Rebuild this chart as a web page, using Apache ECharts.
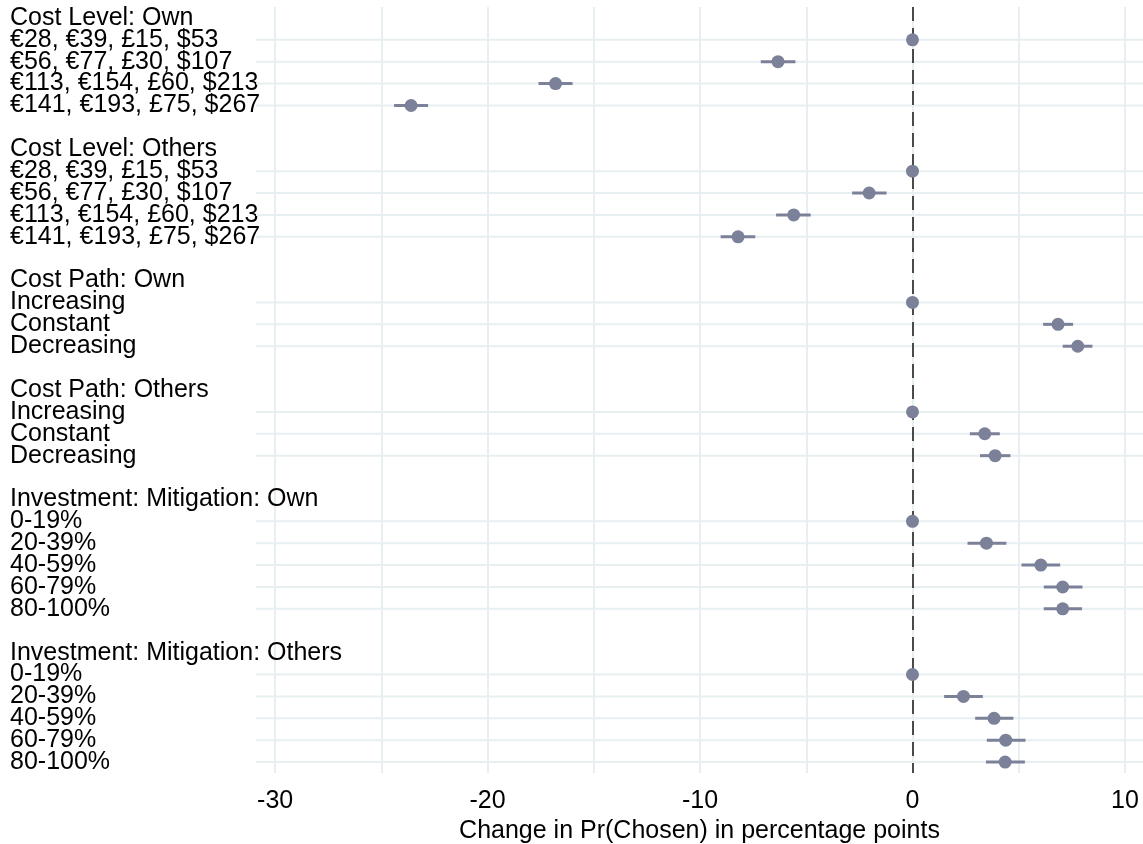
<!DOCTYPE html>
<html>
<head>
<meta charset="utf-8">
<script src="https://cdn.jsdelivr.net/npm/echarts@6/dist/echarts.min.js"></script>
<style>
  html, body { margin: 0; padding: 0; background: #fff; }
  #coefChart { width: 1143px; height: 844px; }
</style>
</head>
<body>
<div id="coefChart"></div>
<script>
  // one entry per row, top to bottom (headers and blank spacer rows have no estimate)
  var rowLabels = [
    'Cost Level: Own', '€28, €39, £15, $53', '€56, €77, £30, $107', '€113, €154, £60, $213', '€141, €193, £75, $267', '',
    'Cost Level: Others', '€28, €39, £15, $53', '€56, €77, £30, $107', '€113, €154, £60, $213', '€141, €193, £75, $267', '',
    'Cost Path: Own', 'Increasing', 'Constant', 'Decreasing', '',
    'Cost Path: Others', 'Increasing', 'Constant', 'Decreasing', '',
    'Investment: Mitigation: Own', '0-19%', '20-39%', '40-59%', '60-79%', '80-100%', '',
    'Investment: Mitigation: Others', '0-19%', '20-39%', '40-59%', '60-79%', '80-100%'
  ]
  var estimate = [
    null, 0, -6.33, -16.8, -23.6, null,
    null, 0, -2.04, -5.59, -8.21, null,
    null, 0, 6.85, 7.78, null,
    null, 0, 3.40, 3.89, null,
    null, 0, 3.48, 6.04, 7.07, 7.07, null,
    null, 0, 2.40, 3.84, 4.39, 4.36
  ]
  var lower = [
    null, null, -7.14, -17.6, -24.4, null,
    null, null, -2.84, -6.42, -9.03, null,
    null, null, 6.15, 7.07, null,
    null, null, 2.70, 3.18, null,
    null, null, 2.59, 5.13, 6.18, 6.18, null,
    null, null, 1.49, 2.95, 3.50, 3.46
  ]
  var upper = [
    null, null, -5.51, -16.0, -22.8, null,
    null, null, -1.22, -4.79, -7.40, null,
    null, null, 7.56, 8.47, null,
    null, null, 4.11, 4.61, null,
    null, null, 4.42, 6.95, 8.00, 7.98, null,
    null, null, 3.31, 4.75, 5.32, 5.29
  ]
  var majorTicks = [-30, -20, -10, 0, 10]
  var minorTicks = [-25, -15, -5, 5]

  var pointData = []
  var ciData = []
  var rowLineData = []
  for (var i = 0; i < rowLabels.length; i++) {
    if (estimate[i] === null) continue
    pointData.push([estimate[i], i])
    rowLineData.push([0, i])
    if (lower[i] !== null) ciData.push([lower[i], upper[i], i])
  }

  var markColor = '#7b8199'
  var gridColor = '#e7eff1'
  var font = 'Liberation Sans, Arial, sans-serif'

  var myChart = echarts.init(document.getElementById('coefChart'))
  myChart.setOption({
    animation: false,
    textStyle: { fontFamily: font },
    grid: { left: 256, right: 0, top: 7, bottom: 71, outerBoundsMode: 'none', containLabel: false },
    xAxis: [
      {
        type: 'value',
        min: -30.9,
        max: 10.85,
        name: 'Change in Pr(Chosen) in percentage points',
        nameLocation: 'middle',
        nameGap: 46,
        nameTextStyle: { fontSize: 25, color: '#000', fontFamily: font },
        axisLine: { lineStyle: { color: '#000', width: 1.5 } },
        axisTick: { customValues: majorTicks, length: 10, lineStyle: { color: '#000', width: 1.5 } },
        axisLabel: { customValues: majorTicks, fontSize: 25, color: '#000', margin: 16, fontFamily: font },
        splitLine: { show: true, lineStyle: { color: gridColor, width: 2 } }
      },
      {
        type: 'value',
        position: 'bottom',
        offset: 0,
        min: -30.9,
        max: 10.85,
        axisLine: { show: false },
        axisTick: { customValues: minorTicks, length: 6, lineStyle: { color: '#000', width: 1.5 } },
        axisLabel: { show: false },
        splitLine: { show: true, lineStyle: { color: gridColor, width: 2 } }
      }
    ],
    yAxis: {
      type: 'category',
      inverse: true,
      data: rowLabels,
      axisLine: { show: false },
      axisTick: { show: false },
      splitLine: { show: false },
      axisLabel: {
        interval: 0,
        align: 'left',
        margin: 246,
        fontSize: 25,
        padding: [4, 0, 0, 0],
        color: '#000',
        fontFamily: font
      }
    },
    series: [
      {
        // light horizontal guide at each estimated row
        type: 'custom',
        z: 1,
        silent: true,
        data: rowLineData,
        renderItem: function (params, api) {
          var cs = params.coordSys
          var y = api.coord([0, api.value(1)])[1]
          return {
            type: 'line',
            shape: { x1: cs.x, y1: y, x2: cs.x + cs.width, y2: y },
            style: { stroke: gridColor, lineWidth: 2 }
          }
        },
        markLine: {
          silent: true,
          symbol: 'none',
          z: 3,
          label: { show: false },
          lineStyle: { color: '#222', type: [14, 7], width: 1.6 },
          data: [{ xAxis: 0 }]
        }
      },
      {
        // confidence intervals
        type: 'custom',
        z: 4,
        silent: true,
        data: ciData,
        encode: { x: [0, 1], y: 2 },
        renderItem: function (params, api) {
          var p1 = api.coord([api.value(0), api.value(2)])
          var p2 = api.coord([api.value(1), api.value(2)])
          return {
            type: 'line',
            shape: { x1: p1[0], y1: p1[1], x2: p2[0], y2: p2[1] },
            style: { stroke: markColor, lineWidth: 3 }
          }
        }
      },
      {
        type: 'scatter',
        z: 10,
        symbol: 'circle',
        symbolSize: 13,
        itemStyle: { color: markColor, opacity: 1 },
        data: pointData
      }
    ]
  })
</script>
</body>
</html>
